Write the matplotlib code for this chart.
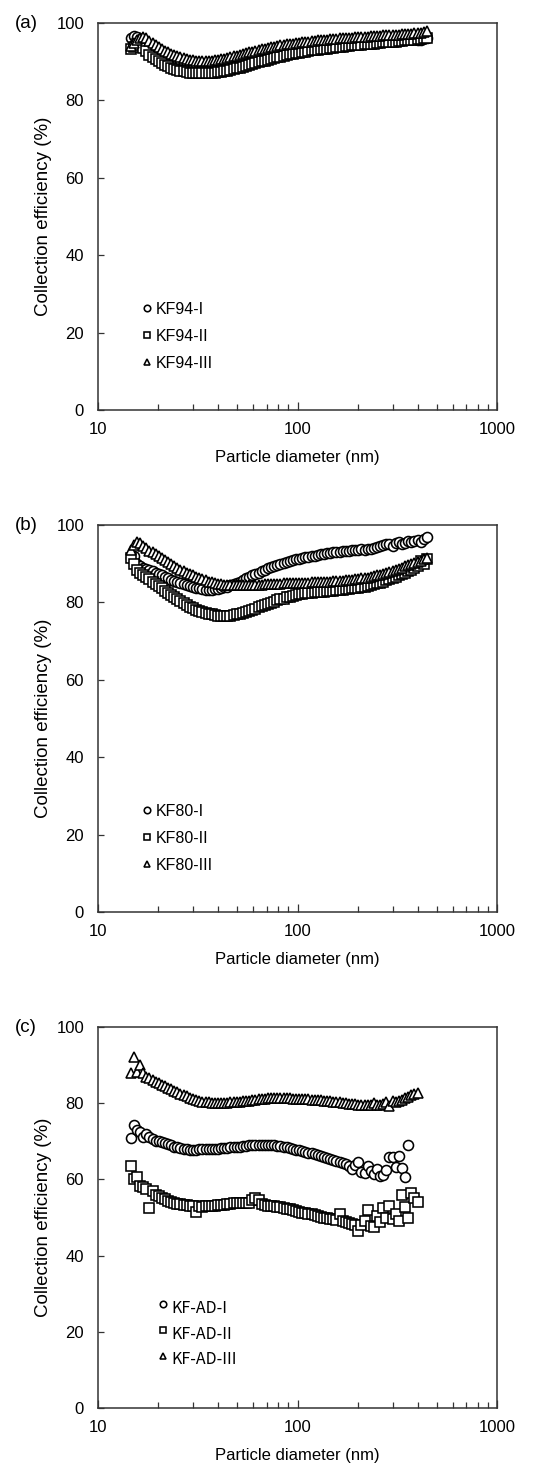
import numpy as np
import matplotlib.pyplot as plt
from matplotlib.legend_handler import HandlerLine2D

plt.rcParams['font.family'] = ['Liberation Sans', 'DejaVu Sans']

# SMPS channel midpoints (nm)
diam = [14.6, 15.1, 15.7, 16.3, 16.8, 17.5, 18.1, 18.8, 19.5, 20.2, 20.9, 21.7,
        22.5, 23.3, 24.1, 25.0, 25.9, 26.9, 27.9, 28.9, 30.0, 31.1, 32.2, 33.4,
        34.6, 35.9, 37.2, 38.5, 40.0, 41.4, 42.9, 44.5, 46.1, 47.8, 49.6, 51.4,
        53.3, 55.2, 57.3, 59.4, 61.5, 63.8, 66.1, 68.5, 71.0, 73.7, 76.4, 79.1,
        82.0, 85.1, 88.2, 91.4, 94.7, 98.2, 101.8, 105.5, 109.4, 113.4, 117.6, 121.9,
        126.3, 131.0, 135.8, 140.7, 145.9, 151.2, 156.8, 162.5, 168.5, 174.7, 181.1, 187.7,
        194.6, 201.7, 209.1, 216.7, 224.7, 232.9, 241.4, 250.3, 259.5, 269.0, 278.8, 289.0,
        299.6, 310.6, 322.0, 333.8, 346.0, 358.7, 371.8, 385.4, 399.5, 414.2, 429.4, 445.1]

# (a) KF94
kf94_1 = [96.0, 96.6, 96.3, 95.8, 95.3, 94.7, 94.2, 93.7,
          93.2, 92.7, 92.2, 91.8, 91.4, 91.0, 90.6, 90.2,
          89.9, 89.6, 89.3, 89.1, 88.9, 88.8, 88.7, 88.6,
          88.6, 88.6, 88.6, 88.7, 88.8, 88.9, 89.0, 89.2,
          89.4, 89.6, 89.8, 90.0, 90.2, 90.4, 90.6, 90.9,
          91.1, 91.3, 91.5, 91.7, 91.9, 92.1, 92.3, 92.5,
          92.6, 92.8, 93.0, 93.1, 93.3, 93.4, 93.6, 93.7,
          93.8, 93.9, 94.0, 94.1, 94.2, 94.3, 94.4, 94.5,
          94.6, 94.7, 94.7, 94.8, 94.9, 95.0, 95.0, 95.1,
          95.2, 95.2, 95.3, 95.3, 95.4, 95.4, 95.5, 95.5,
          95.6, 95.6, 95.7, 95.6, 95.8, 95.8, 95.7, 95.9,
          95.9, 95.8, 96.0, 96.0, 95.7, 95.5, 96.0, 96.2]
kf94_2 = [93.2, 93.8, 94.5, 94.2, 93.6, 92.8, 91.8, 91.2,
          90.6, 90.1, 89.6, 89.2, 88.8, 88.5, 88.2, 87.9,
          87.7, 87.5, 87.3, 87.2, 87.1, 87.0, 87.0, 87.0,
          87.0, 87.0, 87.1, 87.2, 87.3, 87.4, 87.5, 87.7,
          87.9, 88.1, 88.3, 88.5, 88.7, 88.9, 89.1, 89.4,
          89.6, 89.9, 90.1, 90.3, 90.5, 90.7, 90.9, 91.1,
          91.3, 91.5, 91.7, 91.9, 92.0, 92.2, 92.3, 92.5,
          92.6, 92.7, 92.9, 93.0, 93.1, 93.2, 93.3, 93.4,
          93.5, 93.6, 93.7, 93.8, 93.9, 94.0, 94.1, 94.2,
          94.3, 94.4, 94.4, 94.5, 94.6, 94.7, 94.7, 94.8,
          94.9, 95.0, 95.0, 95.1, 95.2, 95.2, 95.3, 95.4,
          95.5, 95.5, 95.6, 95.7, 95.8, 95.9, 96.0, 96.2]
kf94_3 = [94.0, 94.8, 95.6, 96.2, 96.4, 96.0, 95.4, 94.8,
          94.2, 93.7, 93.2, 92.8, 92.4, 92.0, 91.7, 91.4,
          91.1, 90.9, 90.7, 90.5, 90.4, 90.3, 90.2, 90.2,
          90.2, 90.2, 90.3, 90.4, 90.5, 90.6, 90.8, 91.0,
          91.2, 91.4, 91.6, 91.8, 92.0, 92.2, 92.4, 92.6,
          92.8, 93.0, 93.2, 93.4, 93.6, 93.7, 93.9, 94.0,
          94.2, 94.3, 94.5, 94.6, 94.7, 94.8, 94.9, 95.0,
          95.1, 95.2, 95.3, 95.4, 95.5, 95.6, 95.6, 95.7,
          95.8, 95.9, 95.9, 96.0, 96.1, 96.1, 96.2, 96.2,
          96.3, 96.4, 96.4, 96.5, 96.5, 96.6, 96.6, 96.7,
          96.7, 96.8, 96.8, 96.9, 96.9, 97.0, 97.0, 97.1,
          97.1, 97.2, 97.2, 97.3, 97.3, 97.4, 97.6, 98.0]

# (b) KF80
kf80_1 = [91.5, 92.0, 90.0, 89.5, 89.0, 88.7, 88.3, 88.0,
          87.6, 87.3, 87.0, 86.6, 86.2, 85.9, 85.6, 85.3,
          85.0, 84.7, 84.4, 84.2, 84.0, 83.8, 83.6, 83.4,
          83.3, 83.3, 83.3, 83.4, 83.5, 83.7, 83.9, 84.1,
          84.4, 84.7, 85.0, 85.4, 85.8, 86.2, 86.6, 87.0,
          87.4, 87.7, 88.1, 88.4, 88.8, 89.1, 89.4, 89.7,
          90.0, 90.3, 90.5, 90.7, 90.9, 91.1, 91.3, 91.5,
          91.7, 91.8, 92.0, 92.1, 92.3, 92.4, 92.5, 92.7,
          92.8, 92.9, 93.0, 93.1, 93.2, 93.3, 93.4, 93.5,
          93.6, 93.6, 93.7, 93.5, 93.8, 93.9, 94.0, 94.2,
          94.5, 94.9, 95.2, 95.0, 94.6, 95.3, 95.6, 95.1,
          95.4, 95.8, 95.5, 95.9, 96.2, 95.7, 96.4, 97.0]
kf80_2 = [91.5, 90.0, 88.5, 87.5, 87.0, 86.5, 86.0, 85.4,
          84.8, 84.2, 83.6, 83.0, 82.4, 81.8, 81.3, 80.8,
          80.3, 79.8, 79.3, 78.9, 78.5, 78.1, 77.8, 77.5,
          77.3, 77.1, 76.9, 76.7, 76.6, 76.5, 76.5, 76.5,
          76.6, 76.7, 76.9, 77.1, 77.3, 77.5, 77.8, 78.1,
          78.4, 78.7, 79.0, 79.3, 79.6, 79.9, 80.2, 80.5,
          80.8, 81.0, 81.3, 81.5, 81.7, 81.9, 82.1, 82.2,
          82.3, 82.4, 82.5, 82.6, 82.7, 82.7, 82.8, 82.9,
          83.0, 83.0, 83.1, 83.2, 83.3, 83.4, 83.5, 83.6,
          83.7, 83.8, 84.0, 84.1, 84.3, 84.5, 84.7, 84.9,
          85.1, 85.4, 85.7, 86.0, 86.3, 86.6, 87.0, 87.3,
          87.7, 88.1, 88.5, 89.0, 89.5, 90.6, 90.0, 91.2]
kf80_3 = [93.5, 94.8, 95.6, 95.3, 94.6, 94.0, 93.4, 92.9,
          92.4, 91.9, 91.4, 90.9, 90.4, 89.9, 89.4, 88.9,
          88.5, 88.1, 87.7, 87.3, 87.0, 86.6, 86.3, 86.0,
          85.7, 85.4, 85.2, 85.0, 84.8, 84.7, 84.6, 84.5,
          84.5, 84.4, 84.4, 84.4, 84.4, 84.5, 84.5, 84.5,
          84.6, 84.6, 84.6, 84.7, 84.7, 84.7, 84.8, 84.8,
          84.8, 84.9, 84.9, 84.9, 85.0, 85.0, 85.0, 85.1,
          85.1, 85.1, 85.2, 85.2, 85.2, 85.3, 85.3, 85.4,
          85.4, 85.5, 85.5, 85.6, 85.6, 85.7, 85.8, 85.9,
          86.0, 86.1, 86.2, 86.3, 86.4, 86.6, 86.8, 87.0,
          87.2, 87.4, 87.6, 87.8, 88.1, 88.4, 88.7, 89.0,
          89.3, 89.6, 89.9, 90.2, 90.5, 90.8, 91.1, 91.5]

# (c) KF-AD
kfad_1 = [70.9, 74.3, 73.0, 72.5, 71.0, 72.0, 71.2, 70.6,
          70.2, 70.0, 69.8, 69.5, 69.2, 68.9, 68.6, 68.4,
          68.2, 68.0, 67.9, 67.8, 67.8, 67.8, 67.9, 67.9,
          68.0, 68.0, 68.0, 68.1, 68.1, 68.2, 68.2, 68.3,
          68.4, 68.5, 68.5, 68.6, 68.7, 68.8, 68.9, 69.0,
          69.0, 69.1, 69.1, 69.0, 69.0, 68.9, 68.9, 68.8,
          68.7, 68.6, 68.4, 68.2, 68.0, 67.8, 67.6, 67.4,
          67.2, 67.0, 66.8, 66.6, 66.4, 66.1, 65.9, 65.6,
          65.4, 65.1, 64.8, 64.6, 64.3, 64.0, 63.5, 62.8,
          63.8, 64.5, 62.0, 61.8, 63.5, 62.2, 61.5, 62.8,
          60.8, 61.2, 62.5, 66.0, 65.8, 63.2, 66.1, 63.0,
          60.5, 69.0]
kfad_2 = [63.4, 60.0, 60.5, 58.2, 58.0, 57.5, 52.6, 57.0,
          56.0, 55.6, 55.0, 54.8, 54.4, 54.0, 53.8, 53.6,
          53.5, 53.4, 53.2, 53.1, 53.0, 51.5, 53.0, 52.8,
          53.0, 52.9, 53.0, 53.1, 53.2, 53.3, 53.4, 53.5,
          53.6, 53.7, 53.8, 53.8, 53.8, 53.9, 53.8, 54.5,
          55.0, 54.6, 53.5, 53.2, 53.0, 53.0, 52.9, 52.8,
          52.7, 52.5, 52.3, 52.1, 51.9, 51.7, 51.5, 51.3,
          51.1, 50.9, 50.8, 50.6, 50.4, 50.2, 50.0, 49.8,
          49.6, 49.5, 49.3, 51.0, 49.0, 48.7, 48.5, 48.3,
          48.1, 46.5, 48.0, 49.0, 52.0, 47.8, 47.5, 50.5,
          48.8, 52.5, 50.0, 53.0, 49.5, 51.0, 49.0, 56.0,
          52.8, 49.8, 56.5, 55.0, 54.0]
kfad_3 = [87.8, 92.0, 88.3, 90.0, 88.0, 86.8, 86.5, 86.0,
          85.6, 85.2, 84.8, 84.4, 84.0, 83.6, 83.2, 82.9,
          82.5, 82.1, 81.8, 81.4, 81.1, 80.8, 80.6, 80.4,
          80.3, 80.2, 80.1, 80.0, 80.0, 80.0, 80.1, 80.1,
          80.2, 80.2, 80.3, 80.4, 80.5, 80.6, 80.7, 80.8,
          80.9, 81.0, 81.1, 81.2, 81.3, 81.3, 81.4, 81.4,
          81.4, 81.4, 81.3, 81.3, 81.2, 81.2, 81.1, 81.1,
          81.0, 81.0, 80.9, 80.9, 80.8, 80.8, 80.7, 80.6,
          80.5, 80.4, 80.3, 80.2, 80.1, 80.0, 79.9, 79.8,
          79.7, 79.6, 79.6, 79.5, 79.5, 79.5, 80.0, 79.4,
          79.6, 79.8, 80.3, 79.3, 80.5, 80.2, 80.6, 80.9,
          81.3, 81.7, 82.1, 82.4, 82.8]

panels = [
    ('(a)', [kf94_1, kf94_2, kf94_3], ['KF94-I', 'KF94-II', 'KF94-III']),
    ('(b)', [kf80_1, kf80_2, kf80_3], ['KF80-I', 'KF80-II', 'KF80-III']),
    ('(c)', [kfad_1, kfad_2, kfad_3], ['KF-AD-I', 'KF-AD-II', 'KF-AD-III']),
]
markers = ['o', 's', '^']
msizes = [7.2, 6.8, 7.6]
spine_c = '#333333'


class RaisedMarker(HandlerLine2D):
    # legend marker sits a bit above the text line, as in panel (c)
    def create_artists(self, legend, orig_handle, xdescent, ydescent,
                       width, height, fontsize, trans):
        return super().create_artists(legend, orig_handle, xdescent,
                                      ydescent - 4.5, width, height,
                                      fontsize, trans)


W, H = 544, 1470
fig = plt.figure(figsize=(W / 100, H / 100), dpi=100)

tops = [23, 525, 1027]
bots = [410, 912, 1408]
left, right = 98, 497

for k, (tag, series, names) in enumerate(panels):
    ax = fig.add_axes([left / W, 1 - bots[k] / H, (right - left) / W,
                       (bots[k] - tops[k]) / H])
    handles = []
    for y, m, ms, nm in zip(series, markers, msizes, names):
        x = diam[:len(y)]
        h, = ax.plot(x, y, linestyle='none', marker=m, markersize=ms,
                     markerfacecolor='white', markeredgecolor='black',
                     markeredgewidth=1.15, label=nm)
        handles.append(h)

    ax.set_xscale('log')
    ax.set_xlim(10, 1000)
    ax.set_ylim(0, 100)
    ax.set_yticks([0, 20, 40, 60, 80, 100])
    ax.set_xticks([10, 100, 1000])
    ax.set_xticklabels(['10', '100', '1000'])
    ax.tick_params(axis='both', which='both', direction='in', colors=spine_c,
                   labelcolor='black', labelsize=12, width=0.9)
    ax.tick_params(axis='y', length=4.5, pad=10)
    ax.tick_params(axis='x', which='major', length=5.5, pad=9)
    ax.tick_params(axis='x', which='minor', length=4, labelbottom=False)
    for s in ax.spines.values():
        s.set_color(spine_c)
        s.set_linewidth(1.1)

    ax.set_xlabel('Particle diameter (nm)', fontsize=12, labelpad=9)
    ax.set_ylabel('Collection efficiency (%)', fontsize=13.5, labelpad=3)
    ax.text(-0.208, 1.0, tag, transform=ax.transAxes, fontsize=13.5,
            ha='left', va='center')

    if k == 2:
        leg_font = {'family': ['Noto Sans CJK KR', 'DejaVu Sans'], 'size': 11.5}
        ax.legend(handles=handles, loc='upper left', bbox_to_anchor=(0.13, 0.305),
                  frameon=False, borderpad=0, handlelength=0.7,
                  handletextpad=0.15, labelspacing=0.55, markerscale=0.65,
                  prop=leg_font,
                  handler_map={h: RaisedMarker() for h in handles})
    else:
        leg_font = {'family': ['Liberation Sans', 'DejaVu Sans'], 'size': 11.5}
        ax.legend(handles=handles, loc='upper left', bbox_to_anchor=(0.09, 0.30),
                  frameon=False, borderpad=0, handlelength=0.7,
                  handletextpad=0.15, labelspacing=0.75, markerscale=0.65,
                  prop=leg_font)

fig.savefig('out.png', dpi=100)
